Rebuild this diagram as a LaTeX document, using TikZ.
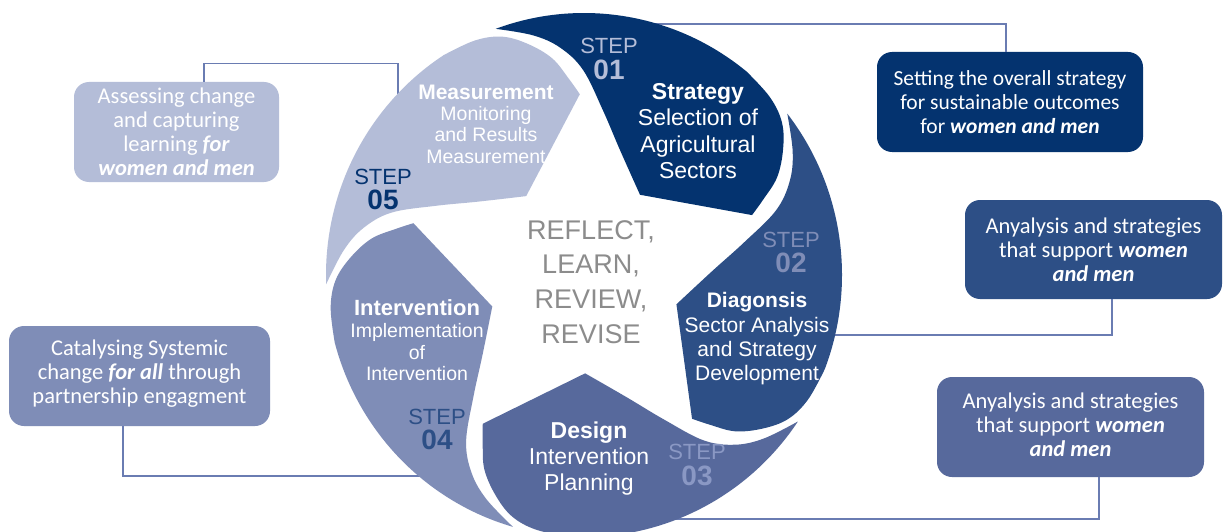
\documentclass[tikz,border=0pt]{standalone}
\usepackage{fontspec}
\setmainfont{Liberation Sans}
\newfontfamily\carl{Carlito}
\definecolor{sone}{HTML}{04336F}
\definecolor{stwo}{HTML}{2D4F86}
\definecolor{sthree}{HTML}{57699C}
\definecolor{sfour}{HTML}{7F8DB7}
\definecolor{sfive}{HTML}{B4BDD8}
\definecolor{stepthree}{HTML}{8A98C4}
\definecolor{conncol}{HTML}{6A7CB2}
\definecolor{midgray}{HTML}{8C8C8C}
\begin{document}
\begin{tikzpicture}[x=1pt,y=-1pt,
  conn/.style={draw=conncol,line width=1.3pt},
  infobox/.style={rounded corners=15pt,text=white,align=center,
    font=\carl\fontsize{22.5}{24}\selectfont,inner sep=0pt},
  segtext/.style={text=white,align=center},
  steptext/.style={align=center,font=\fontsize{22}{25.5}\selectfont}]
\useasboundingbox (0,0) rectangle (1223,532);
\fill[white] (0,0) rectangle (1223,532);

% info boxes
\node[infobox,fill=sone,minimum width=266pt,minimum height=100pt,
  font=\carl\fontsize{21.5}{24}\selectfont] (b1) at (1010,102)
  {Setting the overall strategy\\for sustainable outcomes\\for \textbf{\textit{women and men}}};
\node[infobox,fill=stwo,minimum width=257pt,minimum height=99pt] (b2) at (1093.5,249.5)
  {Anyalysis and strategies\\that support \textbf{\textit{women}}\\\textbf{\textit{and men}}};
\node[infobox,fill=sthree,minimum width=267pt,minimum height=100pt] (b3) at (1070.5,427)
  {Anyalysis and strategies\\that support \textbf{\textit{women}}\\\textbf{\textit{and men}}\rule[-5pt]{0pt}{0pt}};
\node[infobox,fill=sfive,minimum width=205pt,minimum height=100pt] (b4) at (176.5,132)
  {Assessing change\\and capturing\\learning \textbf{\textit{for}}\\\textbf{\textit{women and men}}};
\node[infobox,fill=sfour,minimum width=261pt,minimum height=100pt] (b5) at (139.5,376)
  {Catalysing Systemic\\change \textbf{\textit{for all}} through\\partnership engagment\rule[-9pt]{0pt}{0pt}};

% connector ends on the wheel
\coordinate (k1) at (652,24);
\coordinate (k2) at (830,335);
\coordinate (k3) at (670,519);
\coordinate (k4) at (398,100);
\coordinate (k5) at (432,476);

\draw[conn] ([xshift=-4pt]b1.north) |- (k1);
\draw[conn] ([xshift=18.5pt]b2.south) |- (k2);
\draw[conn] ([xshift=28.5pt]b3.south) |- (k3);
\draw[conn] ([xshift=27.5pt]b4.north) -- ++(0,-18) -| (k4);
\draw[conn] ([xshift=-16.5pt]b5.south) |- (k5);

% wheel
\begin{scope}[shift={(584,275)},y=1pt,yscale=1.0155]
\foreach \k/\c in {0/sone,1/stwo,2/sthree,3/sfour,4/sfive}{
  \fill[\c,rotate=-72*\k] (110:258) arc[start angle=110,end angle=51,radius=258]
    -- plot[smooth,tension=0.6] coordinates {(162.4,200.5) (186,175) (198,150) (199,123) (193,96) (179,74) (168,59)}
    -- (56,79)
    -- plot[smooth,tension=0.6] coordinates {(56,79) (36,123) (19,162) (-1,202) (-24,224) (-51,236) (-88.2,242.4)}
    -- cycle;
}
\end{scope}

% centre text
\node[align=center,text=midgray,font=\fontsize{27}{34.7}\selectfont] (ctr) at (591,282)
  {REFLECT,\\LEARN,\\REVIEW,\\REVISE};

% segment texts
\node[segtext,font=\fontsize{23}{26.5}\selectfont] (t1) at (698,131)
  {\textbf{Strategy}\\Selection of\\Agricultural\\Sectors};
\node[segtext,font=\fontsize{21}{24.3}\selectfont] (t2) at (757,339)
  {\textbf{Diagonsis}\\Sector Analysis\\and Strategy\\Development};
\node[segtext,font=\fontsize{23}{26}\selectfont] (t3) at (589,459)
  {\textbf{Design}\\Intervention\\Planning};
\node[segtext,font=\fontsize{19.5}{21.7}\selectfont] (t4) at (417,340.5)
  {{\fontsize{22}{21.7}\selectfont\bfseries Intervention}\\Implementation\\of\\Intervention};
\node[segtext,font=\fontsize{19.5}{21.3}\selectfont] (t5) at (486,124)
  {{\fontsize{21}{21.3}\selectfont\bfseries Measurement}\\Monitoring\\and Results\\Measurement};

% step labels
\node[steptext,text=sfive] (st1) at (609,59) {STEP\\{\fontsize{28}{25.5}\selectfont\bfseries 01}};
\node[steptext,text=sfour] (st2) at (791,252.5) {STEP\\{\fontsize{28}{25.5}\selectfont\bfseries 02}};
\node[steptext,text=stepthree] (st3) at (697,465) {STEP\\{\fontsize{28}{25.5}\selectfont\bfseries 03}};
\node[steptext,text=stwo] (st4) at (437,429.5) {STEP\\{\fontsize{28}{25.5}\selectfont\bfseries 04}};
\node[steptext,text=sone] (st5) at (383,189.5) {STEP\\{\fontsize{28}{25.5}\selectfont\bfseries 05}};
\end{tikzpicture}
\end{document}
